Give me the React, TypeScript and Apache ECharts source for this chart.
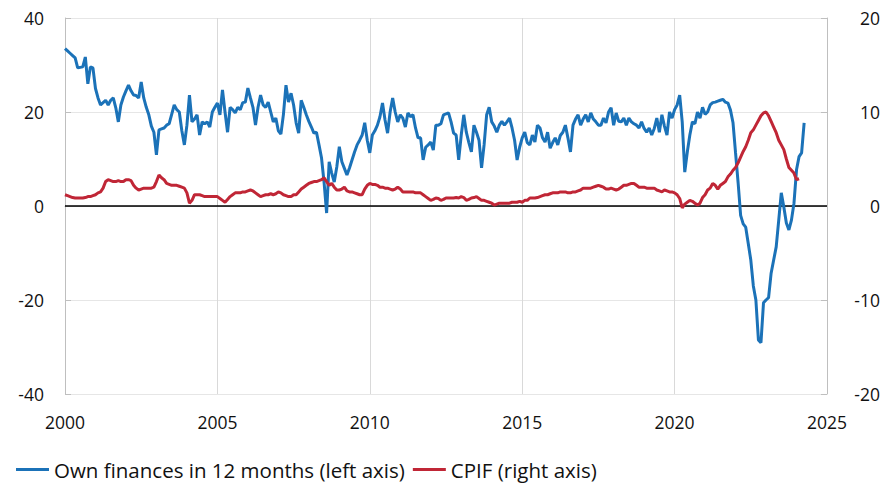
import React, { useEffect, useRef } from "react";
import * as echarts from "echarts";

const START_YEAR = 2000;
const xTickYears = [2000, 2005, 2010, 2015, 2020, 2025];
const seriesNames = ["Own finances in 12 months (left axis)", "CPIF (right axis)"];

// Monthly values from Jan 2000
const ownFinances = [
  33.5, 33, 32.5, 32, 31.5, 29.4, 29.5, 29.6, 31.7, 26, 29.6, 29.4,
  25, 23, 21.5, 22, 22.5, 21.5, 22.5, 23, 20.9, 17.9, 21.5, 23.2,
  24.5, 25.7, 24.5, 23.6, 23.5, 23, 26.4, 23, 21, 19.4, 17, 15.7,
  10.9, 16.2, 16.4, 16.6, 17.2, 17.5, 19.5, 21.5, 20.5, 20, 16, 13,
  17.2, 23.6, 17.9, 18.5, 19.4, 15.1, 17.9, 17.5, 17.9, 16.8, 20, 21,
  21.9, 19.4, 24.7, 20, 15.7, 21, 20.5, 19.8, 21, 20.5, 22, 22.1,
  25.1, 23, 21, 17.2, 21, 23.6, 21.5, 21, 22.1, 20, 17.9, 18.7,
  16, 15.3, 19.5, 25.7, 22.1, 24, 21.5, 17.7, 15.5, 22.5, 21, 19.4,
  18, 16.8, 15.5, 15.7, 13, 10.2, 5, -1.5, 9.4, 7, 5.1, 8.3,
  12.6, 9.4, 8, 6.6, 8.1, 9.8, 11.5, 13, 14, 15.1, 17.7, 14,
  11.3, 15.1, 16, 17.2, 19, 21.9, 18.3, 15.5, 20, 23, 20, 17.9,
  19.4, 18.7, 16.8, 19.8, 19, 19.4, 16.6, 14.5, 14.5, 9.8, 12.5, 13,
  13.6, 11.9, 17.2, 17.2, 17.5, 19.4, 19.6, 19.8, 17.9, 15.5, 15.1, 9.8,
  15.1, 19.4, 15.7, 13.5, 11.5, 17.2, 15.7, 14, 8.1, 13, 19.4, 21,
  17.9, 17, 15.7, 17.2, 18, 17.2, 17.9, 18.7, 16.6, 14, 9.8, 12.5,
  14.5, 15.7, 13.5, 13, 15.1, 13.6, 17.2, 16.6, 14.5, 13.6, 15.7, 12.3,
  13.5, 14.5, 13, 15, 15.7, 17.2, 14.5, 11.5, 17.2, 18.5, 19.4, 17.2,
  18.5, 19.4, 17.9, 19.8, 18.5, 17.9, 17.2, 17.2, 18.7, 17.7, 20, 20.9,
  17.2, 19.8, 18, 17.9, 18.7, 17.2, 18.7, 17.9, 17.5, 17.2, 16.6, 17.9,
  16.5, 15.7, 16.6, 15.1, 16.5, 18.7, 15.7, 19.4, 17, 15.1, 20, 18.7,
  20.5, 21.5, 23.6, 17.9, 7.2, 11.5, 15.1, 17.9, 17.5, 20, 18.7, 21,
  19.5, 20, 21.5, 22, 22.1, 22.3, 22.5, 22.7, 22.1, 21.9, 20.4, 17.7,
  11.3, 5, -2, -3.8, -4.5, -8, -11.5, -17, -20, -28.5, -29.1, -20.6,
  -20, -19.5, -14.3, -11.5, -8.7, -3, 2.8, -0.2, -3.6, -5.1, -3, 0.6,
  7.7, 10.5, 11.3, 17.7,
];

const cpif = [
  1.2, 1.1, 1.0, 0.9, 0.85, 0.85, 0.85, 0.85, 0.9, 1.0, 1.0, 1.1,
  1.2, 1.4, 1.5, 1.9, 2.6, 2.8, 2.7, 2.6, 2.6, 2.7, 2.6, 2.6,
  2.8, 2.8, 2.7, 2.2, 1.9, 1.7, 1.8, 1.9, 1.9, 1.9, 1.9, 2.0,
  2.6, 3.3, 3.0, 2.8, 2.4, 2.3, 2.2, 2.2, 2.2, 2.1, 2.0, 1.9,
  1.4, 0.3, 0.6, 1.2, 1.2, 1.2, 1.1, 1.0, 1.0, 1.0, 1.0, 1.0,
  1.0, 0.8, 0.6, 0.4, 0.7, 1.0, 1.2, 1.4, 1.4, 1.4, 1.5, 1.5,
  1.6, 1.7, 1.6, 1.4, 1.2, 1.0, 1.1, 1.2, 1.2, 1.3, 1.2, 1.3,
  1.5, 1.4, 1.2, 1.1, 1.0, 1.0, 1.2, 1.2, 1.5, 1.8, 2.0, 2.2,
  2.4, 2.5, 2.6, 2.6, 2.7, 2.8, 3.0, 2.6, 2.2, 2.4, 2.0, 1.7,
  1.7, 1.8, 2.0, 1.6, 1.5, 1.5, 1.4, 1.3, 1.2, 1.2, 1.8, 2.2,
  2.4, 2.3, 2.3, 2.2, 2.0, 2.0, 1.9, 1.9, 1.8, 1.7, 1.8, 2.0,
  1.8, 1.5, 1.5, 1.5, 1.5, 1.5, 1.4, 1.4, 1.4, 1.2, 1.0, 0.8,
  0.6, 0.7, 0.85, 0.8, 0.6, 0.7, 0.85, 0.85, 0.85, 0.85, 0.9, 0.85,
  1.0, 0.9, 0.6, 0.7, 0.85, 0.9, 1.0, 0.8, 0.6, 0.6, 0.5, 0.4,
  0.3, 0.1, 0.2, 0.3, 0.3, 0.3, 0.3, 0.3, 0.4, 0.4, 0.4, 0.5,
  0.4, 0.6, 0.6, 0.85, 0.85, 0.85, 0.9, 1.0, 1.1, 1.2, 1.2, 1.3,
  1.4, 1.4, 1.4, 1.5, 1.5, 1.5, 1.4, 1.4, 1.5, 1.5, 1.6, 1.7,
  1.9, 1.9, 1.9, 1.9, 2.0, 2.1, 2.2, 2.1, 2.0, 1.8, 1.8, 1.9,
  1.8, 1.7, 1.8, 2.0, 2.2, 2.2, 2.3, 2.4, 2.4, 2.2, 2.0, 2.0,
  2.0, 1.9, 1.9, 1.9, 1.9, 1.7, 1.6, 1.5, 1.7, 1.6, 1.5, 1.5,
  1.4, 1.2, 0.8, -0.2, 0.2, 0.4, 0.6, 0.5, 0.3, 0.1, 0.3, 0.9,
  1.2, 1.7, 1.9, 2.4, 2.2, 1.8, 2.2, 2.4, 2.6, 3.1, 3.4, 3.8,
  4.1, 4.6, 5.2, 5.8, 6.3, 7.0, 7.8, 8.1, 8.6, 9.1, 9.6, 9.9,
  10.0, 9.6, 9.0, 8.4, 7.8, 7.0, 6.5, 6.0, 5.0, 4.1, 3.8, 3.5,
  2.8, 2.9,
];

const BLUE = "#1b72b8";
const RED = "#c02636";
const AXIS_GRAY = "#bfbfbf";
const FONT = "Open Sans";

const toPoints = (arr: number[]) => arr.map((v, i) => [START_YEAR + i / 12, v]);

export default function App() {
  const ref = useRef<HTMLDivElement>(null);

  useEffect(() => {
    if (!ref.current) return;
    const chart = echarts.init(ref.current, undefined, { renderer: "svg" });
    const labelStyle = { color: "#111111", fontSize: 17.5, fontFamily: FONT };
    chart.setOption({
      animation: false,
      backgroundColor: "#ffffff",
      grid: { left: 65, right: 57, top: 18, bottom: 94, containLabel: false },
      legend: {
        left: 11,
        top: 454,
        icon: "rect",
        itemWidth: 33,
        itemHeight: 3,
        itemGap: 8,
        textStyle: { color: "#111111", fontSize: 20.5, fontFamily: FONT },
        data: seriesNames,
      },
      xAxis: {
        type: "value",
        min: xTickYears[0],
        max: xTickYears[xTickYears.length - 1],
        interval: 5,
        axisLine: { show: true, lineStyle: { color: AXIS_GRAY, width: 1 } },
        axisTick: { show: true, inside: true, length: 6, lineStyle: { color: AXIS_GRAY } },
        axisLabel: { ...labelStyle, margin: 19, formatter: (v: number) => String(v) },
        splitLine: { show: true, lineStyle: { color: "#d9d9d9", width: 1 } },
      },
      yAxis: [
        {
          type: "value",
          min: -40,
          max: 40,
          interval: 20,
          axisLine: { show: true, lineStyle: { color: AXIS_GRAY } },
          axisTick: { show: true, inside: true, length: 6, lineStyle: { color: AXIS_GRAY } },
          axisLabel: { ...labelStyle, margin: 21 },
          splitLine: { show: true, lineStyle: { color: "#e6e6e6", width: 1 } },
        },
        {
          type: "value",
          position: "right",
          min: -20,
          max: 20,
          interval: 10,
          axisLine: { show: true, lineStyle: { color: AXIS_GRAY } },
          axisTick: { show: true, inside: true, length: 6, lineStyle: { color: AXIS_GRAY } },
          axisLabel: { ...labelStyle, margin: 53, align: "right" },
          splitLine: { show: false },
        },
      ],
      series: [
        {
          name: seriesNames[0],
          type: "line",
          yAxisIndex: 0,
          data: toPoints(ownFinances),
          showSymbol: false,
          symbol: "none",
          lineStyle: { color: BLUE, width: 3 },
          itemStyle: { color: BLUE },
          z: 3,
          markLine: {
            silent: true,
            symbol: ["none", "none"],
            label: { show: false },
            lineStyle: { color: "#000000", width: 1.5, type: "solid" },
            data: [{ yAxis: 0 }],
            z: 1,
          },
        },
        {
          name: seriesNames[1],
          type: "line",
          yAxisIndex: 1,
          data: toPoints(cpif),
          showSymbol: false,
          symbol: "none",
          lineStyle: { color: RED, width: 3 },
          itemStyle: { color: RED },
          z: 4,
        },
      ],
    });
    return () => chart.dispose();
  }, []);

  return (
    <div
      ref={ref}
      style={{ position: "fixed", left: 0, top: 0, width: 884, height: 488, background: "#fff" }}
    />
  );
}
